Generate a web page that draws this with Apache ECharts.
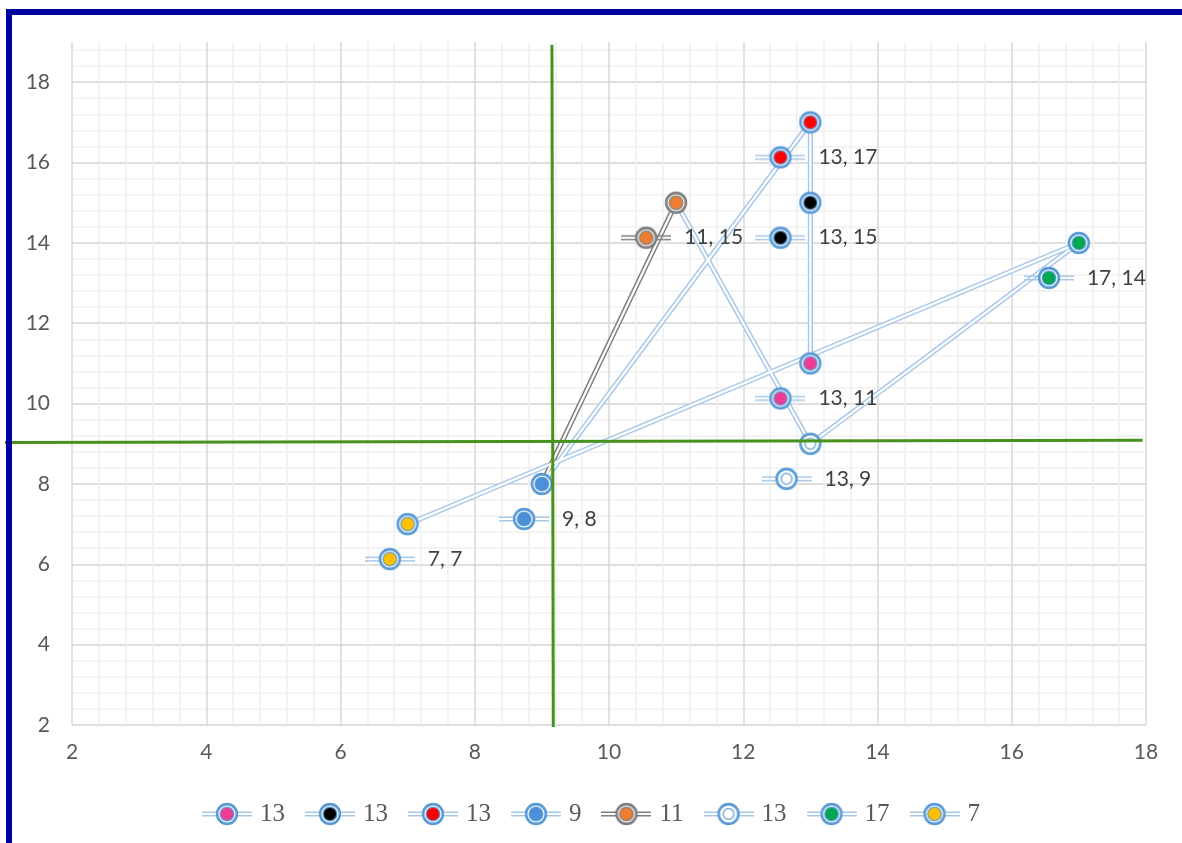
<!DOCTYPE html>
<html>
<head>
<meta charset="utf-8">
<script src="https://cdn.jsdelivr.net/npm/echarts@6/dist/echarts.min.js"></script>
<style>
  html, body { margin: 0; padding: 0; background: #ffffff; }
  #chart { width: 1182px; height: 843px; }
</style>
</head>
<body>
<div id="chart"></div>
<script>
// Points, in the order the connecting path visits them
const xValues = [13, 13, 13, 9, 11, 13, 17, 7];
const yValues = [11, 15, 17, 8, 15, 9, 14, 7];
const legendLabels = ['13', '13', '13', '9', '11', '13', '17', '7'];
const fillColors = ['#EC3C96', '#000000', '#FF0000', '#4A8FD8', '#ED7D31', '#FFFFFF', '#00A651', '#FFC000'];
const ringColors = ['#5B9BD5', '#5B9BD5', '#5B9BD5', '#5B9BD5', '#7F7F7F', '#5B9BD5', '#5B9BD5', '#5B9BD5'];
const lineColors = ['#A6C8EA', '#A6C8EA', '#A6C8EA', '#A6C8EA', '#7F7F7F', '#A6C8EA', '#A6C8EA', '#A6C8EA'];

// Quadrant guide lines (data units)
const guideVertical = [[9.15, 18.93], [9.17, 1.95]];
const guideHorizontal = [[1.0, 9.03], [17.95, 9.09]];

// Axis ranges
const xMin = 2, xMax = 18, yMin = 2, yMax = 19, majorStep = 2, minorStep = 0.4;

// Draws a marker (optionally with the double key line through it) to an image URL
function markerImage(fill, ring, line, width) {
  const h = 26;
  const c = document.createElement('canvas');
  c.width = width; c.height = h;
  const g = c.getContext('2d');
  const cx = width / 2, cy = h / 2;
  if (line) {
    g.strokeStyle = line;
    g.lineWidth = 1.4;
    g.beginPath();
    g.moveTo(0, cy - 1.8); g.lineTo(width, cy - 1.8);
    g.moveTo(0, cy + 1.8); g.lineTo(width, cy + 1.8);
    g.stroke();
  }
  // white body
  g.fillStyle = '#ffffff';
  g.beginPath(); g.arc(cx, cy, 10, 0, Math.PI * 2); g.fill();
  // coloured core
  g.fillStyle = fill;
  g.beginPath(); g.arc(cx, cy, 7, 0, Math.PI * 2); g.fill();
  // outer ring
  g.strokeStyle = ring;
  g.lineWidth = 2.6;
  g.beginPath(); g.arc(cx, cy, 9.9, 0, Math.PI * 2); g.stroke();
  // inner ring
  g.globalAlpha = 0.8;
  g.lineWidth = 1.5;
  g.beginPath(); g.arc(cx, cy, fill === '#FFFFFF' ? 5.4 : 6.8, 0, Math.PI * 2); g.stroke();
  g.globalAlpha = 1;
  return c.toDataURL('image/png');
}

const chart = echarts.init(document.getElementById('chart'), null, { renderer: 'canvas' });

const uniqueNames = legendLabels.map((n, i) => n + '\u200b'.repeat(i));
const points = xValues.map((x, i) => [x, yValues[i]]);

// Path segments split by colour
function segmentData(colorTest) {
  const out = [];
  for (let i = 1; i < points.length; i++) {
    if (colorTest(lineColors[i])) {
      if (out.length && out[out.length - 1] !== '-' &&
          (out[out.length - 1][0] !== points[i - 1][0] || out[out.length - 1][1] !== points[i - 1][1])) {
        out.push('-');
      }
      if (!out.length || out[out.length - 1] === '-') out.push(points[i - 1]);
      out.push(points[i]);
    } else if (out.length && out[out.length - 1] !== '-') {
      out.push('-');
    }
  }
  return out;
}

function pathSeries(data, color, width, z) {
  return {
    type: 'line', xAxisIndex: 0, yAxisIndex: 1, data: data,
    symbol: 'none', silent: true, connectNulls: false, z: z,
    lineStyle: { color: color, width: width, cap: 'round', join: 'round' },
    animation: false, legendHoverLink: false
  };
}

const series = [];
series.push(pathSeries(segmentData(c => c !== '#7F7F7F'), '#A6C8EA', 5.2, 2));
series.push(pathSeries(segmentData(c => c === '#7F7F7F'), '#7F7F7F', 5.2, 2));
series.push(pathSeries(points, '#ffffff', 2.2, 2.1));

points.forEach((p, i) => {
  const keyUrl = markerImage(fillColors[i], ringColors[i], lineColors[i], 50);
  series.push({
    type: 'scatter', name: uniqueNames[i], xAxisIndex: 0, yAxisIndex: 1,
    data: [p], z: 3, animation: false,
    symbol: 'image://' + markerImage(fillColors[i], ringColors[i], null, 26),
    symbolSize: [26, 26],
    itemStyle: { opacity: 1 },
    label: {
      show: true, position: 'inside', offset: [6, 35],
      formatter: () => '{k|}{t|' + p[0] + ', ' + p[1] + '}',
      rich: {
        k: { width: 50, height: 26, backgroundColor: { image: keyUrl } },
        t: { fontFamily: 'Lato', fontSize: 21, color: '#404040', padding: [0, 0, 0, 13] }
      }
    }
  });
});

const option = {
  animation: false,
  backgroundColor: '#ffffff',
  grid: { left: 72, right: 36, top: 42, bottom: 118, containLabel: false, outerBoundsMode: 'none' },
  xAxis: [{
    type: 'value', min: xMin, max: xMax, interval: majorStep,
    axisLine: { show: false }, axisTick: { show: false },
    axisLabel: { color: '#595959', fontFamily: 'Lato', fontSize: 21, margin: 17 },
    splitLine: { show: true, lineStyle: { color: '#D9D9D9', width: 1.5 } },
    minorTick: { show: false, splitNumber: 5 },
    minorSplitLine: { show: true, lineStyle: { color: '#F0F0F0', width: 1.5 } }
  }],
  yAxis: [{
    // minor horizontal grid
    type: 'value', position: 'left', min: yMin, max: yMax, interval: minorStep,
    axisLine: { show: false }, axisTick: { show: false }, axisLabel: { show: false },
    splitLine: { show: true, showMaxLine: false, lineStyle: { color: '#F0F0F0', width: 1.5 } }
  }, {
    type: 'value', position: 'left', offset: 0, min: yMin, max: yMax, interval: majorStep,
    axisLine: { show: false }, axisTick: { show: false },
    axisLabel: { color: '#595959', fontFamily: 'Lato', fontSize: 21, margin: 22, showMaxLabel: false },
    splitLine: { show: true, showMaxLine: false, lineStyle: { color: '#D9D9D9', width: 1.5 } }
  }],
  legend: {
    top: 796, left: 'center',
    itemWidth: 50, itemHeight: 26, itemGap: 20,
    data: uniqueNames.map((n, i) => ({
      name: n,
      icon: 'image://' + markerImage(fillColors[i], ringColors[i], lineColors[i], 50)
    })),
    formatter: n => n.replace(/\u200b/g, ''),
    textStyle: { fontFamily: 'Liberation Serif', fontSize: 25, color: '#595959', padding: [0, 0, 0, 3] }
  },
  series: series
};

chart.setOption(option);

// Frame and quadrant guides, placed through the chart's own axes
function toPx(pt) { return chart.convertToPixel({ xAxisIndex: 0, yAxisIndex: 1 }, pt); }
function guideLine(pair) {
  const a = toPx(pair[0]), b = toPx(pair[1]);
  return {
    type: 'line', z: 50, silent: true,
    shape: { x1: a[0], y1: a[1], x2: b[0], y2: b[1] },
    style: { stroke: '#46921C', lineWidth: 3 }
  };
}
chart.setOption({
  graphic: [
    guideLine(guideVertical),
    guideLine(guideHorizontal),
    { type: 'rect', z: 60, shape: { x: 6, y: 9, width: 1176, height: 6 }, style: { fill: '#0000A0' } },
    { type: 'rect', z: 60, shape: { x: 6, y: 9, width: 6, height: 834 }, style: { fill: '#0000A0' } }
  ]
});
</script>
</body>
</html>
